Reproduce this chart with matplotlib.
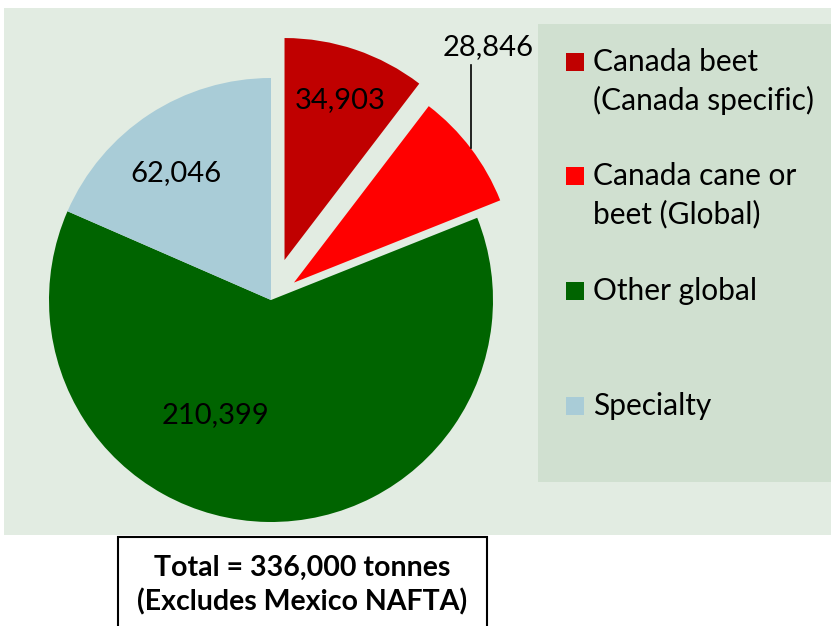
import matplotlib.pyplot as plt
from matplotlib.patches import Rectangle

plt.rcParams['font.family'] = ['Lato', 'DejaVu Sans']

labels = ['Canada beet\n(Canada specific)', 'Canada cane or\nbeet (Global)', 'Other global', 'Specialty']
values = [34903, 28846, 210399, 62046]
value_text = ['34,903', '28,846', '210,399', '62,046']
colors = ['#C00000', '#FF0000', '#006400', '#A9CCD7']
explode = [0.19, 0.13, 0, 0]
total_text = 'Total = 336,000 tonnes\n(Excludes Mexico NAFTA)'

W, H = 831, 626
fig = plt.figure(figsize=(W / 100, H / 100), dpi=100)
fig.patch.set_facecolor('white')

def px(x, y, w=0, h=0):
    # pixel box (top-left origin) -> figure fraction
    return (x / W, 1 - (y + h) / H, w / W, h / H)

# background panels
x0, y0, w0, h0 = px(4, 8, 827, 527)
fig.patches.append(Rectangle((x0, y0), w0, h0, transform=fig.transFigure,
                             facecolor='#E2ECE2', edgecolor='none', zorder=-2))
x1, y1, w1, h1 = px(538, 24, 293, 458)
fig.patches.append(Rectangle((x1, y1), w1, h1, transform=fig.transFigure,
                             facecolor='#D0E0D0', edgecolor='none', zorder=-1))

# pie axes: center at (271, 300) px, radius 222 px
R = 222
lim = 1.2
ax = fig.add_axes([(271 - lim * R) / W, (H - 300 - lim * R) / H,
                   2 * lim * R / W, 2 * lim * R / H])
ax.set_zorder(2)
ax.patch.set_alpha(0)

wedges, _ = ax.pie(values, colors=colors, explode=explode, startangle=90,
                   counterclock=False, radius=1, frame=True,
                   wedgeprops=dict(linewidth=0))
ax.set_xlim(-lim, lim)
ax.set_ylim(-lim, lim)
ax.axis('off')
for w in wedges:
    w.set_clip_on(False)

# value labels (data coords of the pie)
label_pos = [(0.31, 0.90), (0.98, 1.14), (-0.25, -0.52), (-0.43, 0.57)]
for (lx, ly), t in zip(label_pos, value_text):
    ax.text(lx, ly, t, ha='center', va='center', fontsize=21, color='black')
ax.plot([0.90, 0.90], [1.058, 0.685], color='black', lw=1.2, clip_on=False)

# legend
rows = [62, 176, 291, 406]
for yc, lab, c in zip(rows, labels, colors):
    sx, sy, sw, sh = px(566, yc - 9, 18, 18)
    fig.patches.append(Rectangle((sx, sy), sw, sh, transform=fig.transFigure,
                                 facecolor=c, edgecolor='none', zorder=3))
    for i, line in enumerate(lab.split('\n')):
        fig.text(593 / W, 1 - (yc + 38 * i) / H, line, ha='left', va='center',
                 fontsize=21.5, color='black')

# total box
bx, by, bw, bh = px(118, 537, 369, 95)
fig.patches.append(Rectangle((bx, by), bw, bh, transform=fig.transFigure,
                             facecolor='white', edgecolor='black', lw=1.5, zorder=3))
fig.text(302 / W, 1 - 585 / H, total_text, ha='center', va='center',
         fontsize=20.5, fontweight='bold', linespacing=1.32)

fig.savefig('out.png', dpi=100)
